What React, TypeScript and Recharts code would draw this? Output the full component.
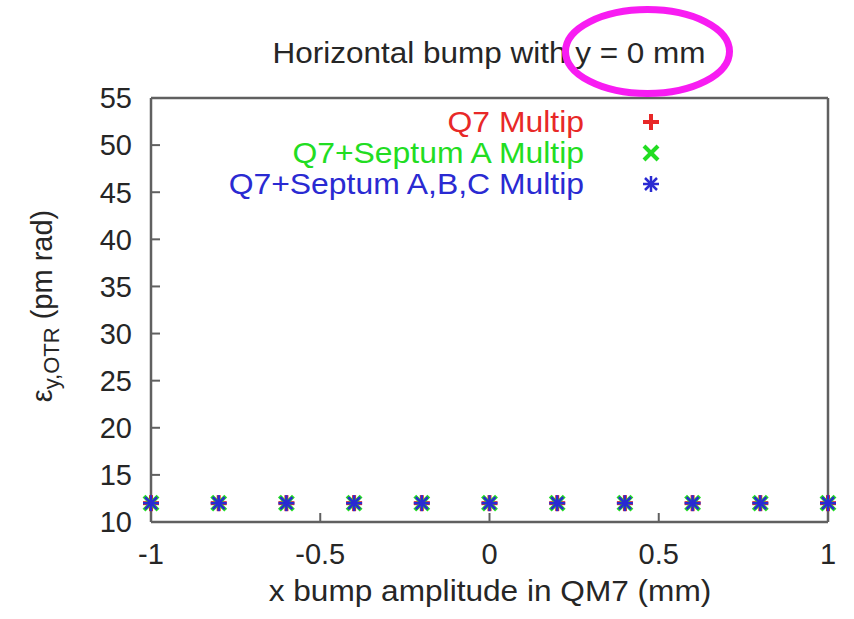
import { ScatterChart, Scatter, XAxis, YAxis } from "recharts"

// x bump amplitude (mm) and measured vertical emittance for each multipole set
const bumpX = [-1, -0.8, -0.6, -0.4, -0.2, 0, 0.2, 0.4, 0.6, 0.8, 1]
const q7Multip = [12, 12, 12, 12, 12, 12, 12, 12, 12, 12, 12]
const q7SeptumA = [12, 12, 12, 12, 12, 12, 12, 12, 12, 12, 12]
const q7SeptumABC = [12, 12, 12, 12, 12, 12, 12, 12, 12, 12, 12]

const xTicks = [-1, -0.5, 0, 0.5, 1]
const yTicks = [10, 15, 20, 25, 30, 35, 40, 45, 50, 55]

const seriesNames = ["Q7 Multip", "Q7+Septum A Multip", "Q7+Septum A,B,C Multip"]
const RED = "#e82828"
const GREEN = "#22dd22"
const BLUE = "#2a2ad2"

const FONT = "'Liberation Sans', Arial, Helvetica, sans-serif"
const FRAME = "#606060"
const TEXT = "#262626"

const toPoints = (ys: number[]) => bumpX.map((x, i) => ({ x, y: ys[i] }))

const Plus = ({ cx, cy, color = RED }: any) => (
    <g stroke={color} strokeWidth={4}>
        <line x1={cx - 8} y1={cy} x2={cx + 8} y2={cy} />
        <line x1={cx} y1={cy - 8} x2={cx} y2={cy + 8} />
    </g>
)

const Cross = ({ cx, cy, color = GREEN }: any) => (
    <g stroke={color} strokeWidth={4}>
        <line x1={cx - 7} y1={cy - 7} x2={cx + 7} y2={cy + 7} />
        <line x1={cx - 7} y1={cy + 7} x2={cx + 7} y2={cy - 7} />
    </g>
)

const Star = ({ cx, cy, color = BLUE }: any) => (
    <g stroke={color} strokeWidth={2.5}>
        <line x1={cx - 8} y1={cy} x2={cx + 8} y2={cy} />
        <line x1={cx} y1={cy - 8} x2={cx} y2={cy + 8} />
        <line x1={cx - 6} y1={cy - 6} x2={cx + 6} y2={cy + 6} />
        <line x1={cx - 6} y1={cy + 6} x2={cx + 6} y2={cy - 6} />
    </g>
)

// text widened a little, the lettering is set wide
const Wide = ({ x, y, sx = 1.08, anchor = "middle", size = 29, color = TEXT, children }: any) => (
    <text
        transform={`translate(${x}, ${y}) scale(${sx}, 1)`}
        fontSize={size}
        fill={color}
        textAnchor={anchor}
    >
        {children}
    </text>
)

const tickStyle = { fontSize: 29, fill: TEXT, fontFamily: FONT }

export default function App() {
    const legendRows = [
        { name: seriesNames[0], color: RED, Mark: Plus },
        { name: seriesNames[1], color: GREEN, Mark: Cross },
        { name: seriesNames[2], color: BLUE, Mark: Star },
    ]

    return (
        <div style={{ position: "absolute", left: 0, top: 0, width: 854, height: 619, background: "#fff" }}>
            <ScatterChart
                width={854}
                height={619}
                margin={{ top: 97, right: 25, bottom: 37, left: 91 }}
                style={{ position: "absolute", left: 0, top: 0 }}
            >
                <XAxis
                    xAxisId="bottom"
                    dataKey="x"
                    type="number"
                    domain={[-1, 1]}
                    ticks={xTicks}
                    height={60}
                    stroke={FRAME}
                    strokeWidth={2.5}
                    tickSize={-9}
                    tickMargin={30}
                    tick={tickStyle}
                    tickLine={{ stroke: FRAME, strokeWidth: 2 }}
                />
                <XAxis
                    xAxisId="top"
                    orientation="top"
                    type="number"
                    domain={[-1, 1]}
                    ticks={xTicks}
                    height={1}
                    stroke={FRAME}
                    strokeWidth={2.5}
                    tickSize={-9}
                    tick={false}
                    tickLine={{ stroke: FRAME, strokeWidth: 2 }}
                />
                <YAxis
                    yAxisId="left"
                    dataKey="y"
                    type="number"
                    domain={[10, 55]}
                    ticks={yTicks}
                    width={60}
                    stroke={FRAME}
                    strokeWidth={2.5}
                    tickSize={-9}
                    tickMargin={28}
                    tick={tickStyle}
                    tickLine={{ stroke: FRAME, strokeWidth: 2 }}
                />
                <YAxis
                    yAxisId="right"
                    orientation="right"
                    type="number"
                    domain={[10, 55]}
                    ticks={yTicks}
                    width={1}
                    stroke={FRAME}
                    strokeWidth={2.5}
                    tickSize={-9}
                    tick={false}
                    tickLine={{ stroke: FRAME, strokeWidth: 2 }}
                />
                <Scatter
                    name={seriesNames[0]}
                    data={toPoints(q7Multip)}
                    xAxisId="bottom"
                    yAxisId="left"
                    shape={<Plus />}
                    isAnimationActive={false}
                />
                <Scatter
                    name={seriesNames[1]}
                    data={toPoints(q7SeptumA)}
                    xAxisId="bottom"
                    yAxisId="left"
                    shape={<Cross />}
                    isAnimationActive={false}
                />
                <Scatter
                    name={seriesNames[2]}
                    data={toPoints(q7SeptumABC)}
                    xAxisId="bottom"
                    yAxisId="left"
                    shape={<Star />}
                    isAnimationActive={false}
                />
            </ScatterChart>

            {/* title, axis labels, key and the highlight ring */}
            <svg
                width={854}
                height={619}
                style={{ position: "absolute", left: 0, top: 0, pointerEvents: "none" }}
                fontFamily={FONT}
            >
                <Wide x={489} y={63} size={30} sx={1.05}>
                    Horizontal bump with y = 0 mm
                </Wide>
                <ellipse cx={647.5} cy={51.5} rx={82} ry={42} fill="none" stroke="#f81cf2" strokeWidth={7} />

                <Wide x={490} y={601} sx={1.09}>
                    x bump amplitude in QM7 (mm)
                </Wide>

                <text transform="translate(52, 306) rotate(-90)" fontSize={29} fill={TEXT} textAnchor="middle">
                    ε
                    <tspan fontSize={22} dy={7}>y,OTR</tspan>
                    <tspan dy={-7}> (pm rad)</tspan>
                </text>

                {legendRows.map((row, i) => {
                    const cy = 122 + i * 31
                    return (
                        <g key={row.name}>
                            <Wide x={584} y={cy + 10} sx={1.1} anchor="end" color={row.color}>
                                {row.name}
                            </Wide>
                            <row.Mark cx={651} cy={cy} color={row.color} />
                        </g>
                    )
                })}
            </svg>
        </div>
    )
}
